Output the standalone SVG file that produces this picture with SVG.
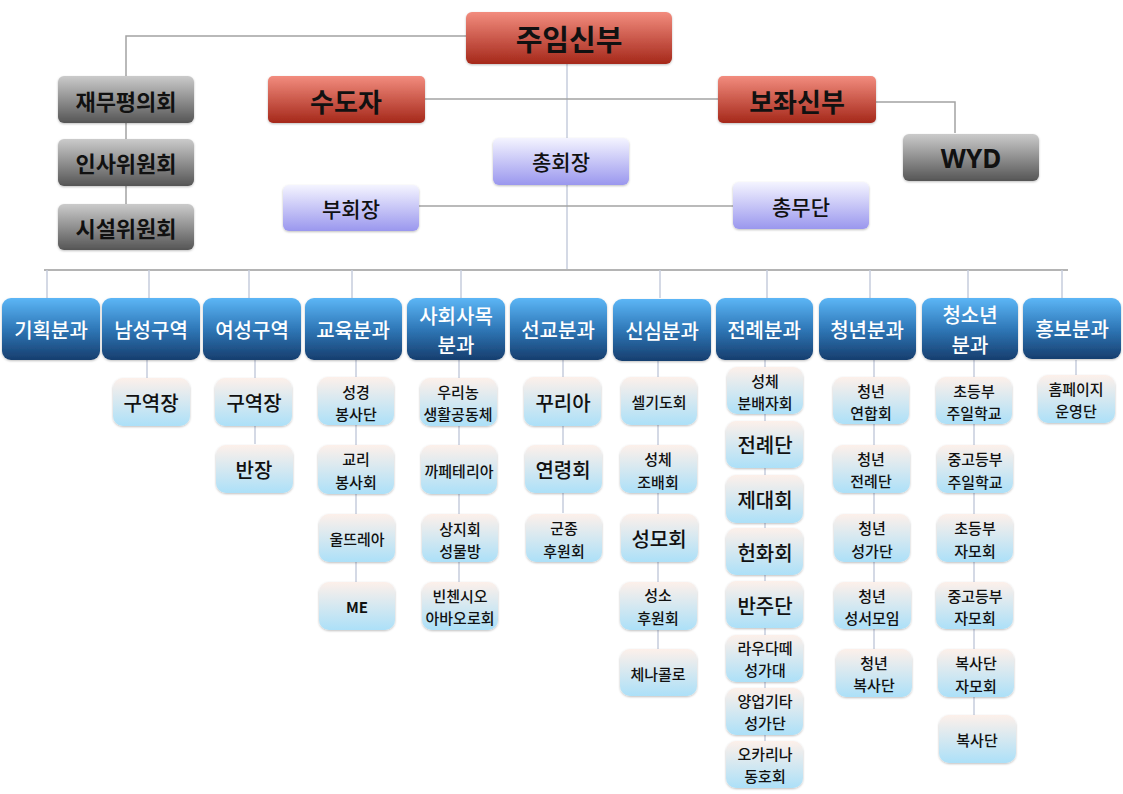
<svg xmlns="http://www.w3.org/2000/svg" width="1123" height="794" viewBox="0 0 1123 794">
<defs>
<linearGradient id="gRed" x1="0" y1="0" x2="0" y2="1"><stop offset="0" stop-color="#f28c7e"/><stop offset="1" stop-color="#a5281a"/></linearGradient>
<linearGradient id="gGray" x1="0" y1="0" x2="0" y2="1"><stop offset="0" stop-color="#cbcbcb"/><stop offset="1" stop-color="#555555"/></linearGradient>
<linearGradient id="gLav" x1="0" y1="0" x2="0" y2="1"><stop offset="0" stop-color="#f4f4ff"/><stop offset="1" stop-color="#9a97ee"/></linearGradient>
<linearGradient id="gBlue" x1="0" y1="0" x2="0" y2="1"><stop offset="0" stop-color="#5cb6f6"/><stop offset="0.5" stop-color="#2f78b8"/><stop offset="1" stop-color="#173e6e"/></linearGradient>
<linearGradient id="gSub" x1="0" y1="0" x2="0" y2="1"><stop offset="0" stop-color="#fdf0ea"/><stop offset="1" stop-color="#ace0f8"/></linearGradient>
<filter id="sh" x="-10%" y="-10%" width="120%" height="130%"><feDropShadow dx="0" dy="1" stdDeviation="1.2" flood-color="#000" flood-opacity="0.25"/></filter>
</defs>
<style>
.red{fill:url(#gRed);filter:url(#sh)}
.gray{fill:url(#gGray);filter:url(#sh)}
.lav{fill:url(#gLav);filter:url(#sh)}
.blue{fill:url(#gBlue);filter:url(#sh)}
.sub{fill:url(#gSub);filter:url(#sh)}
text{font-family:"Noto Sans CJK KR","Noto Sans",sans-serif;text-anchor:middle;dominant-baseline:central;fill:#111}
.t1{font-size:29px;font-weight:700}
.t2{font-size:26px;font-weight:700}
.t3{font-size:22px;font-weight:700}
.t4{font-size:21px;font-weight:500}
.td{font-size:20px;font-weight:500;fill:#fff}
.ts{font-size:15px;font-weight:500}
.tb{font-size:20px;font-weight:500}
.c1{fill:none;stroke:#a3a3a3;stroke-width:1.5}
.c2{fill:none;stroke:#c6cddd;stroke-width:1.5}
.bus{fill:none;stroke:#b4b4b4;stroke-width:2}
</style>
<g id="connectors">
<path class="c1" d="M466,36 H126 V76 M126,123 V139 M126,186 V204"/>
<path class="c2" d="M567,64 V270"/>
<path class="c1" d="M425,99 H718"/>
<path class="c1" d="M876,102 H955 V133"/>
<path class="c1" d="M419,206 H733"/>
<path class="bus" d="M44,270 H1068"/>
<path class="c2" d="M47,270 V298 M149,270 V298 M249,270 V298 M352,270 V298 M461,270 V298 M660,270 V298 M767,270 V298 M870,270 V298 M968,270 V298 M1062,270 V298"/>
<path class="c2" d="M147,360 V378 M255,360 V444 M356,360 V582 M459,360 V582 M563,360 V513 M658,360 V649 M765,360 V741 M874,360 V649 M974,360 V715 M1076,360 V375"/>
</g>
<g id="n-jumim"><rect class="red" x="466" y="12" width="206" height="52" rx="6"/><text class="t1" x="569" y="38">주임신부</text></g>
<g id="n-sudoja"><rect class="red" x="268" y="76" width="157" height="47" rx="5"/><text class="t2" x="346" y="100">수도자</text></g>
<g id="n-bojwa"><rect class="red" x="718" y="76" width="158" height="47" rx="5"/><text class="t2" x="797" y="100">보좌신부</text></g>
<g id="n-jaemu"><rect class="gray" x="58" y="76" width="136" height="47" rx="6"/><text class="t3" x="126" y="100">재무평의회</text></g>
<g id="n-insa"><rect class="gray" x="58" y="139" width="136" height="47" rx="6"/><text class="t3" x="126" y="162">인사위원회</text></g>
<g id="n-siseol"><rect class="gray" x="58" y="204" width="136" height="46" rx="6"/><text class="t3" x="126" y="227">시설위원회</text></g>
<g id="n-wyd"><rect class="gray" x="903" y="134" width="136" height="47" rx="6"/><text class="t2" x="971" y="158" style="font-family:'Noto Sans',sans-serif">WYD</text></g>
<g id="n-chonghoe"><rect class="lav" x="493" y="138" width="136" height="47" rx="6"/><text class="t4" x="561" y="161">총회장</text></g>
<g id="n-buhoe"><rect class="lav" x="283" y="185" width="136" height="46" rx="6"/><text class="t4" x="351" y="208">부회장</text></g>
<g id="n-chongmu"><rect class="lav" x="733" y="182" width="136" height="47" rx="6"/><text class="t4" x="801" y="206">총무단</text></g>

<g id="d-gihoek"><rect class="blue" x="2" y="298" width="98" height="62" rx="9"/><text class="td" x="51" y="329">기획분과</text></g>
<g id="d-namseong"><rect class="blue" x="102" y="298" width="98" height="62" rx="9"/><text class="td" x="151" y="329">남성구역</text></g>
<g id="d-yeoseong"><rect class="blue" x="203" y="298" width="98" height="62" rx="9"/><text class="td" x="252" y="329">여성구역</text></g>
<g id="d-gyoyuk"><rect class="blue" x="305" y="298" width="97" height="62" rx="9"/><text class="td" x="353" y="329">교육분과</text></g>
<g id="d-sahoe"><rect class="blue" x="407" y="298" width="98" height="62" rx="9"/><text class="td" x="456" y="315">사회사목</text><text class="td" x="456" y="344">분과</text></g>
<g id="d-seongyo"><rect class="blue" x="510" y="298" width="97" height="62" rx="9"/><text class="td" x="558" y="329">선교분과</text></g>
<g id="d-sinsim"><rect class="blue" x="613" y="299" width="98" height="62" rx="9"/><text class="td" x="662" y="330">신심분과</text></g>
<g id="d-jeonrye"><rect class="blue" x="716" y="298" width="97" height="62" rx="9"/><text class="td" x="764" y="329">전례분과</text></g>
<g id="d-cheongnyeon"><rect class="blue" x="819" y="298" width="97" height="62" rx="9"/><text class="td" x="867" y="329">청년분과</text></g>
<g id="d-cheongsonyeon"><rect class="blue" x="922" y="298" width="96" height="62" rx="9"/><text class="td" x="970" y="314">청소년</text><text class="td" x="970" y="344">분과</text></g>
<g id="d-hongbo"><rect class="blue" x="1023" y="298" width="98" height="61" rx="9"/><text class="td" x="1072" y="328">홍보분과</text></g>

<g id="s-nam-1"><rect class="sub" x="113" y="378" width="77" height="48" rx="10"/><text class="tb" x="151" y="402">구역장</text></g>
<g id="s-yeo-1"><rect class="sub" x="215" y="378" width="77" height="48" rx="10"/><text class="tb" x="254" y="402">구역장</text></g>
<g id="s-yeo-2"><rect class="sub" x="216" y="445" width="77" height="48" rx="10"/><text class="tb" x="254" y="469">반장</text></g>

<g id="s-gy-1"><rect class="sub" x="318" y="377" width="76" height="48" rx="10"/><text class="ts" x="356" y="391">성경</text><text class="ts" x="356" y="413">봉사단</text></g>
<g id="s-gy-2"><rect class="sub" x="318" y="445" width="76" height="49" rx="10"/><text class="ts" x="356" y="458">교리</text><text class="ts" x="356" y="481">봉사회</text></g>
<g id="s-gy-3"><rect class="sub" x="319" y="514" width="76" height="48" rx="10"/><text class="ts" x="357" y="538">울뜨레아</text></g>
<g id="s-gy-4"><rect class="sub" x="319" y="582" width="76" height="48" rx="10"/><text class="ts" x="357" y="606" style="font-weight:700">ME</text></g>

<g id="s-sa-1"><rect class="sub" x="420" y="378" width="77" height="48" rx="10"/><text class="ts" x="458" y="391">우리농</text><text class="ts" x="458" y="413">생활공동체</text></g>
<g id="s-sa-2"><rect class="sub" x="421" y="445" width="76" height="49" rx="10"/><text class="ts" x="459" y="470">까페테리아</text></g>
<g id="s-sa-3"><rect class="sub" x="422" y="514" width="76" height="48" rx="10"/><text class="ts" x="460" y="528">상지회</text><text class="ts" x="460" y="550">성물방</text></g>
<g id="s-sa-4"><rect class="sub" x="422" y="582" width="76" height="48" rx="10"/><text class="ts" x="460" y="595">빈첸시오</text><text class="ts" x="460" y="617">아바오로회</text></g>

<g id="s-se-1"><rect class="sub" x="524" y="377" width="77" height="49" rx="10"/><text class="tb" x="563" y="402">꾸리아</text></g>
<g id="s-se-2"><rect class="sub" x="525" y="445" width="77" height="48" rx="10"/><text class="tb" x="563" y="469">연령회</text></g>
<g id="s-se-3"><rect class="sub" x="526" y="514" width="76" height="48" rx="10"/><text class="ts" x="564" y="527">군종</text><text class="ts" x="564" y="550">후원회</text></g>

<g id="s-si-1"><rect class="sub" x="621" y="377" width="76" height="48" rx="10"/><text class="ts" x="659" y="401">셀기도회</text></g>
<g id="s-si-2"><rect class="sub" x="620" y="445" width="77" height="48" rx="10"/><text class="ts" x="658" y="458">성체</text><text class="ts" x="658" y="481">조배회</text></g>
<g id="s-si-3"><rect class="sub" x="621" y="514" width="77" height="48" rx="10"/><text class="tb" x="659" y="538">성모회</text></g>
<g id="s-si-4"><rect class="sub" x="620" y="582" width="77" height="48" rx="10"/><text class="ts" x="658" y="594">성소</text><text class="ts" x="658" y="617">후원회</text></g>
<g id="s-si-5"><rect class="sub" x="620" y="649" width="77" height="47" rx="10"/><text class="ts" x="658" y="673">체나콜로</text></g>

<g id="s-je-1"><rect class="sub" x="727" y="367" width="76" height="47" rx="10"/><text class="ts" x="765" y="380">성체</text><text class="ts" x="765" y="402">분배자회</text></g>
<g id="s-je-2"><rect class="sub" x="726" y="421" width="77" height="47" rx="10"/><text class="tb" x="765" y="444">전례단</text></g>
<g id="s-je-3"><rect class="sub" x="726" y="475" width="77" height="48" rx="10"/><text class="tb" x="765" y="499">제대회</text></g>
<g id="s-je-4"><rect class="sub" x="726" y="528" width="77" height="47" rx="10"/><text class="tb" x="765" y="552">헌화회</text></g>
<g id="s-je-5"><rect class="sub" x="726" y="581" width="77" height="47" rx="10"/><text class="tb" x="765" y="605">반주단</text></g>
<g id="s-je-6"><rect class="sub" x="726" y="635" width="77" height="47" rx="10"/><text class="ts" x="765" y="647">라우다떼</text><text class="ts" x="765" y="669">성가대</text></g>
<g id="s-je-7"><rect class="sub" x="726" y="688" width="77" height="47" rx="10"/><text class="ts" x="765" y="700">양업기타</text><text class="ts" x="765" y="722">성가단</text></g>
<g id="s-je-8"><rect class="sub" x="726" y="741" width="77" height="47" rx="10"/><text class="ts" x="765" y="753">오카리나</text><text class="ts" x="765" y="775">동호회</text></g>

<g id="s-cn-1"><rect class="sub" x="833" y="377" width="76" height="47" rx="10"/><text class="ts" x="871" y="390">청년</text><text class="ts" x="871" y="412">연합회</text></g>
<g id="s-cn-2"><rect class="sub" x="833" y="445" width="77" height="48" rx="10"/><text class="ts" x="871" y="458">청년</text><text class="ts" x="871" y="480">전례단</text></g>
<g id="s-cn-3"><rect class="sub" x="834" y="514" width="76" height="48" rx="10"/><text class="ts" x="872" y="527">청년</text><text class="ts" x="872" y="550">성가단</text></g>
<g id="s-cn-4"><rect class="sub" x="834" y="582" width="77" height="47" rx="10"/><text class="ts" x="872" y="595">청년</text><text class="ts" x="872" y="617">성서모임</text></g>
<g id="s-cn-5"><rect class="sub" x="836" y="649" width="76" height="48" rx="10"/><text class="ts" x="874" y="662">청년</text><text class="ts" x="874" y="684">복사단</text></g>

<g id="s-cs-1"><rect class="sub" x="936" y="377" width="76" height="47" rx="10"/><text class="ts" x="974" y="390">초등부</text><text class="ts" x="974" y="412">주일학교</text></g>
<g id="s-cs-2"><rect class="sub" x="937" y="445" width="76" height="48" rx="10"/><text class="ts" x="975" y="458">중고등부</text><text class="ts" x="975" y="481">주일학교</text></g>
<g id="s-cs-3"><rect class="sub" x="937" y="514" width="76" height="48" rx="10"/><text class="ts" x="975" y="527">초등부</text><text class="ts" x="975" y="550">자모회</text></g>
<g id="s-cs-4"><rect class="sub" x="936" y="582" width="77" height="47" rx="10"/><text class="ts" x="975" y="595">중고등부</text><text class="ts" x="975" y="617">자모회</text></g>
<g id="s-cs-5"><rect class="sub" x="938" y="649" width="76" height="48" rx="10"/><text class="ts" x="976" y="662">복사단</text><text class="ts" x="976" y="685">자모회</text></g>
<g id="s-cs-6"><rect class="sub" x="939" y="715" width="77" height="48" rx="10"/><text class="ts" x="977" y="739">복사단</text></g>

<g id="s-hb-1"><rect class="sub" x="1038" y="375" width="77" height="48" rx="10"/><text class="ts" x="1076" y="388">홈페이지</text><text class="ts" x="1076" y="410">운영단</text></g>
</svg>
